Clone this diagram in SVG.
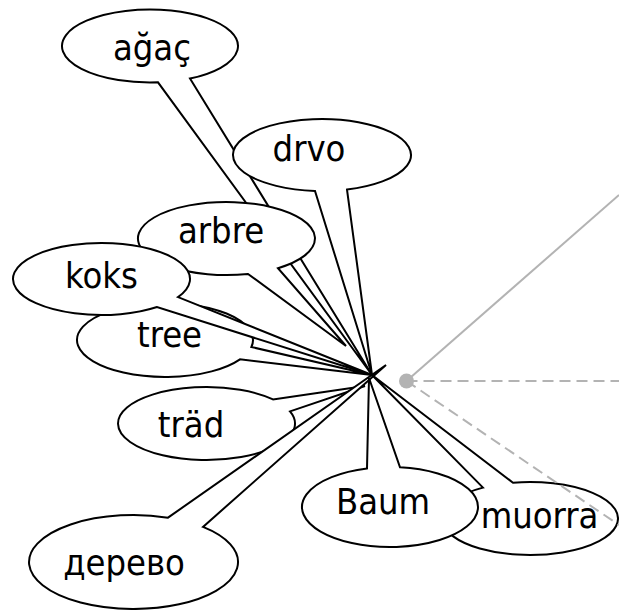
<svg xmlns="http://www.w3.org/2000/svg" width="619" height="610" viewBox="0 0 619 610">
  <style>
    .callout path { fill: #fff; stroke: #000; stroke-width: 2; stroke-linejoin: miter; }
    .callout text { font-family: "DejaVu Sans", "Open Sans", sans-serif; font-stretch: condensed; font-size: 36px; fill: #000; text-anchor: middle; }
    .guide { stroke: #b3b3b3; stroke-width: 2; fill: none; }
    .dashed { stroke-dasharray: 11 6; }
  </style>
  <rect width="619" height="610" fill="#fff"/>

  <g id="agac" class="callout">
    <path d="M158,82.35 A88,36.5 0 1 1 190,78.51 L372,375 Z"/>
    <text x="152" y="60">ağaç</text>
  </g>
  <g id="drvo" class="callout">
    <path d="M315,190.89 A89,36 0 1 1 347,189.55 L372,375 Z"/>
    <text x="309" y="161">drvo</text>
  </g>
  <g id="arbre" class="callout">
    <path d="M248,273.91 A88.5,36.5 0 1 1 278,268.18 L346,346 Z"/>
    <text x="221" y="243">arbre</text>
  </g>
  <g id="tree" class="callout">
    <path d="M240,359.35 A88,37 0 1 1 251.4,347.02 L372,375 Z"/>
    <text x="169.5" y="347">tree</text>
  </g>
  <g id="koks" class="callout">
    <path d="M157,307.04 A88.5,36 0 1 1 178,297.10 L372,375 Z"/>
    <text x="101.5" y="288">koks</text>
  </g>
  <g id="trad" class="callout">
    <path d="M290,411.40 A88.5,36.5 0 1 1 273,399.42 L365,386 Z"/>
    <text x="191" y="437">träd</text>
  </g>
  <g id="derevo" class="callout">
    <path d="M203,526.90 A104.5,47 0 1 1 168,517.64 L386,365 Z"/>
    <text x="124" y="575">дерево</text>
  </g>
  <g id="muorra" class="callout">
    <path d="M513,482.69 A88,36.5 0 1 1 483,487.64 L372,375 Z"/>
    <text x="539.5" y="528">muorra</text>
  </g>
  <g id="baum" class="callout">
    <path d="M400,467.26 A88,40 0 1 1 367,468.39 L369,378 Z"/>
    <text x="383" y="514">Baum</text>
  </g>

  <g id="connectors">
    <line class="guide" x1="406.5" y1="381" x2="619" y2="195"/>
    <line class="guide dashed" x1="406.5" y1="381" x2="619" y2="381"/>
    <line class="guide dashed" x1="406.5" y1="381" x2="619" y2="525"/>
    <circle cx="406.5" cy="381" r="7.5" fill="#b3b3b3"/>
  </g>
</svg>
